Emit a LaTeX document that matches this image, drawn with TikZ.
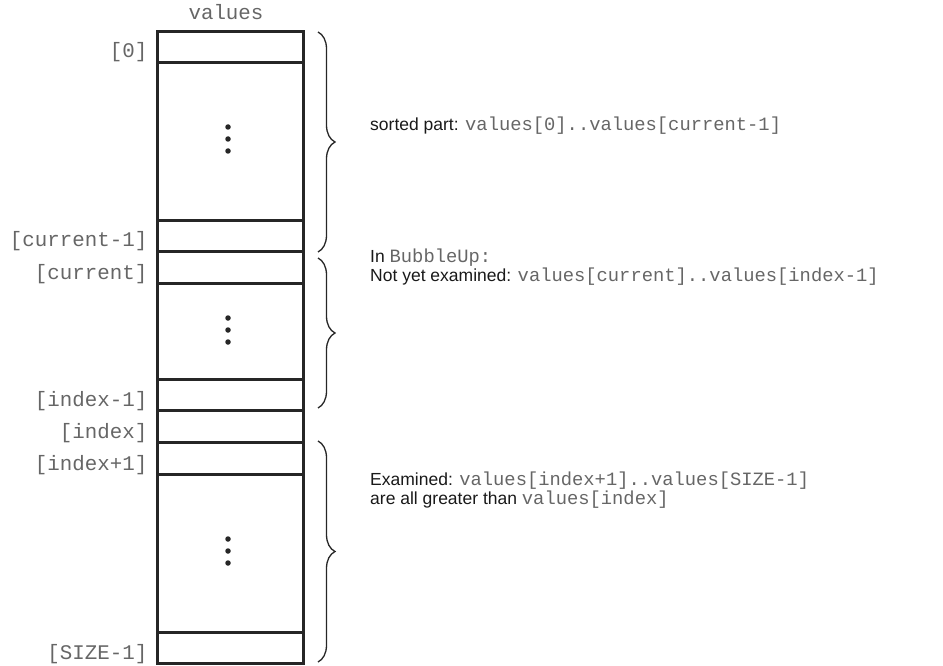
\documentclass[tikz,border=0pt]{standalone}
\usepackage{fontspec}
\setmainfont{Liberation Sans}
\setmonofont{Liberation Mono}
\usetikzlibrary{decorations.pathreplacing}
\definecolor{monogray}{gray}{0.4}
\newcommand{\mc}[1]{{\color{monogray}\fontsize{18.8}{19}\selectfont\ttfamily #1}}
\begin{document}
\begin{tikzpicture}[x=1pt,y=-1pt,
  cell/.style={draw=black!85, line width=2.6pt, minimum width=146pt, inner sep=0pt, anchor=north west},
  idx/.style={anchor=base east, inner sep=0pt, text=monogray, font=\fontsize{20.8}{21}\selectfont\ttfamily},
  note/.style={anchor=base west, inner sep=0pt, text=black!90, font=\fontsize{17.5}{19}\selectfont},
  bracepath/.style={decorate, decoration={brace, amplitude=17pt}, line width=1.3pt, draw=black!85},
  dot/.style={circle, fill=black!85, inner sep=0pt, minimum size=5.5pt}]
\useasboundingbox (0,0) rectangle (943,666);

% cells
\node[cell, minimum height=31pt]  (c0)   at (156,30)  {};
\node[cell, minimum height=158pt] (g1)   at (156,61)  {};
\node[cell, minimum height=31pt]  (ccm1) at (156,219) {};
\node[cell, minimum height=32pt]  (ccur) at (156,250) {};
\node[cell, minimum height=96pt]  (g2)   at (156,282) {};
\node[cell, minimum height=31pt]  (cim1) at (156,378) {};
\node[cell, minimum height=32pt]  (cidx) at (156,409) {};
\node[cell, minimum height=32pt]  (cip1) at (156,441) {};
\node[cell, minimum height=158pt] (g3)   at (156,473) {};
\node[cell, minimum height=31pt]  (csz)  at (156,631) {};

% dots
\foreach \g/\yy in {a/139, b/330, c/551} {
  \node[dot] (\g1) at (228,\yy-12) {};
  \node[dot] (\g2) at (228,\yy) {};
  \node[dot] (\g3) at (228,\yy+12) {};
}

% title
\node[anchor=base, inner sep=0pt, text=monogray, font=\fontsize{20.8}{21}\selectfont\ttfamily] (title) at (226,20) {values};

% index labels
\node[idx] (l0)   at (147.5,58)  {[0]};
\node[idx] (lcm1) at (147.5,247) {[current-1]};
\node[idx] (lcur) at (147.5,279) {[current]};
\node[idx] (lim1) at (147.5,406) {[index-1]};
\node[idx] (lidx) at (147.5,438) {[index]};
\node[idx] (lip1) at (147.5,470) {[index+1]};
\node[idx] (lsz)  at (147.5,659) {[SIZE-1]};

% braces
\coordinate (b1a) at (318,32);  \coordinate (b1b) at (318,252);
\coordinate (b2a) at (318,258); \coordinate (b2b) at (318,408);
\coordinate (b3a) at (318,441); \coordinate (b3b) at (318,662);
\draw[bracepath] (b1a) -- (b1b);
\draw[bracepath] (b2a) -- (b2b);
\draw[bracepath] (b3a) -- (b3b);

% notes
\node[note] (n1) at (370,131) {sorted part: \mc{values[0]..values[current-1]}};
\node[note] (n2) at (370,262) {In \mc{BubbleUp:}};
\node[note] (n3) at (370,281) {Not yet examined: \mc{values[current]..values[index-1]}};
\node[note] (n4) at (370,485) {Examined: \mc{values[index+1]..values[SIZE-1]}};
\node[note] (n5) at (370,504) {are all greater than \mc{values[index]}};
\end{tikzpicture}
\end{document}
